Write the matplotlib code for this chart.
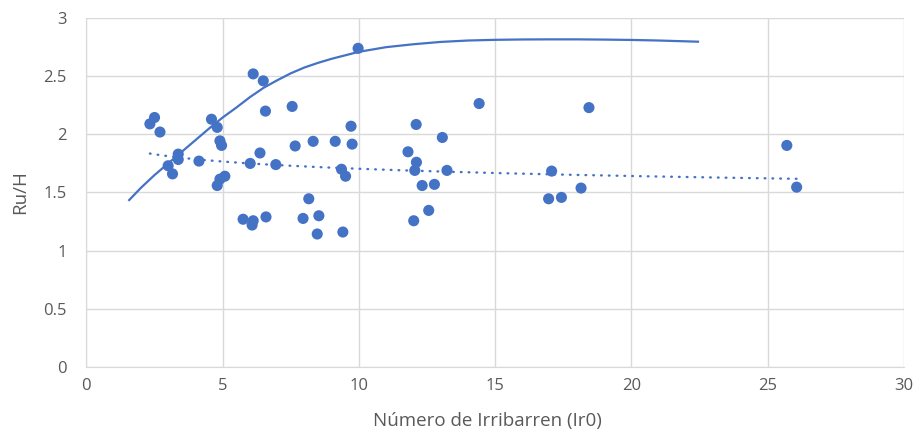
import matplotlib.pyplot as plt
import numpy as np

# measured runs: Iribarren number vs relative run-up
ir0 = [9.97, 6.12, 6.49, 6.57, 7.55, 2.50, 2.33, 2.70, 4.59, 4.80,
       4.90, 4.96, 9.71, 9.75, 7.66, 8.32, 9.13, 3.37, 3.37, 4.13,
       6.37, 6.01, 6.95, 3.00, 3.16, 9.36, 9.51, 5.08, 4.90, 4.80,
       8.16, 5.75, 6.12, 6.08, 6.59, 7.95, 8.53, 8.47, 9.41, 14.41,
       18.44, 12.10, 13.06, 11.80, 12.11, 12.05, 13.23, 12.32, 12.77, 12.56,
       12.01, 17.07, 16.96, 17.43, 18.15, 25.70, 26.06]
ru_h = [2.74, 2.52, 2.46, 2.20, 2.24, 2.145, 2.09, 2.02, 2.13, 2.06,
        1.944, 1.905, 2.07, 1.916, 1.90, 1.94, 1.94, 1.83, 1.784, 1.77,
        1.84, 1.75, 1.74, 1.73, 1.66, 1.70, 1.64, 1.64, 1.615, 1.56,
        1.446, 1.27, 1.257, 1.22, 1.29, 1.277, 1.30, 1.143, 1.16, 2.265,
        2.23, 2.085, 1.973, 1.85, 1.76, 1.69, 1.69, 1.56, 1.57, 1.346,
        1.257, 1.684, 1.446, 1.458, 1.538, 1.905, 1.546]

# reference curve
curve_x = [1.57, 2.0, 2.5, 3.0, 3.5, 4.0, 4.5, 5.0, 5.5, 6.0, 6.5, 7.0, 7.5,
           8.0, 8.5, 9.0, 9.5, 10.0, 11.0, 12.0, 13.0, 14.0, 15.0, 16.0,
           17.0, 18.0, 19.0, 20.0, 21.0, 22.44]
curve_y = [1.435, 1.54, 1.65, 1.75, 1.85, 1.95, 2.05, 2.145, 2.23, 2.32,
           2.40, 2.465, 2.525, 2.575, 2.615, 2.65, 2.68, 2.71, 2.75, 2.775,
           2.795, 2.807, 2.813, 2.816, 2.817, 2.817, 2.815, 2.812, 2.807,
           2.797]

# log trendline y = a + b*ln(x)
trend_a = 1.911
trend_b = -0.0899

blue = '#4472C4'
grey = '#595959'
plt.rcParams['font.family'] = ['Open Sans', 'DejaVu Sans']

fig = plt.figure(figsize=(9.19, 4.41), dpi=100)
ax = fig.add_axes([0.094, 0.168, 0.8897, 0.791])

ax.plot(curve_x, curve_y, color=blue, lw=1.6, zorder=3)

tx = np.linspace(min(ir0), max(ir0), 200)
ax.plot(tx, trend_a + trend_b * np.log(tx), color=blue, lw=1.7,
        linestyle=(0, (0.3, 3.0)), dash_capstyle='round', zorder=3)

ax.scatter(ir0, ru_h, s=64, color=blue, edgecolors='none', zorder=4)

ax.set_xlim(0, 30)
ax.set_ylim(0, 3)
ax.set_xticks(range(0, 31, 5))
ax.set_yticks([0, 0.5, 1, 1.5, 2, 2.5, 3])
ax.set_yticklabels(['0', '0.5', '1', '1.5', '2', '2.5', '3'])
ax.grid(True, color='#d9d9d9', lw=1)
ax.set_axisbelow(True)
for side in ['top', 'right']:
    ax.spines[side].set_visible(False)
for side in ['left', 'bottom']:
    ax.spines[side].set_color('#d9d9d9')
ax.tick_params(axis='both', length=0, labelsize=12, colors=grey)
ax.tick_params(axis='y', pad=14)
ax.tick_params(axis='x', pad=8)

ax.set_xlabel('Número de Irribarren (Ir0)', fontsize=13.5, color=grey)
ax.xaxis.set_label_coords(0.491, -0.128)
ax.set_ylabel('Ru/H', fontsize=13.5, color=grey, labelpad=10)

fig.savefig('out.png', dpi=100)
